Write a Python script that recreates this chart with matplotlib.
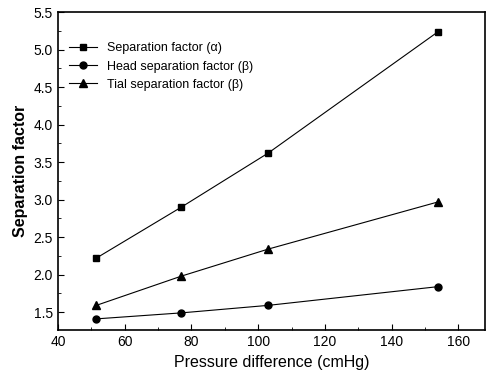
import matplotlib
matplotlib.use("Agg")
import matplotlib.pyplot as plt
from matplotlib.ticker import MultipleLocator

plt.rcParams['font.family'] = ['Liberation Sans', 'DejaVu Sans']

# data
pressure = [51.5, 77, 103, 154]
sep_alpha = [2.22, 2.90, 3.62, 5.24]
head_beta = [1.41, 1.49, 1.59, 1.84]
tail_beta = [1.59, 1.98, 2.34, 2.97]

fig = plt.figure(figsize=(4.87, 3.76), dpi=100)
ax = fig.add_axes([0.119, 0.122, 0.877, 0.846])

ax.plot(pressure, sep_alpha, color='black', lw=0.8, marker='s', ms=5, label='Separation factor (α)')
ax.plot(pressure, head_beta, color='black', lw=0.8, marker='o', ms=5, label='Head separation factor (β)')
ax.plot(pressure, tail_beta, color='black', lw=0.8, marker='^', ms=5.5, label='Tial separation factor (β)')

ax.set_xlim(40, 168)
ax.set_ylim(1.26, 5.5)
ax.xaxis.set_major_locator(MultipleLocator(20))
ax.xaxis.set_minor_locator(MultipleLocator(10))
ax.yaxis.set_major_locator(MultipleLocator(0.5))
ax.yaxis.set_minor_locator(MultipleLocator(0.25))
ax.yaxis.set_major_formatter(matplotlib.ticker.FormatStrFormatter('%.1f'))
ax.tick_params(which='both', direction='in', labelsize=10)
ax.tick_params(which='major', length=4)
ax.tick_params(which='minor', length=2)
for s in ax.spines.values():
    s.set_linewidth(1.2)

ax.set_xlabel('Pressure difference (cmHg)', fontsize=11.5)
ax.set_ylabel('Separation factor', fontsize=11.5, fontweight='bold')

ax.legend(loc='upper left', bbox_to_anchor=(0.0, 0.94), frameon=False, fontsize=9,
          handlelength=2.2, labelspacing=0.5)

fig.savefig('out.png', dpi=100)
